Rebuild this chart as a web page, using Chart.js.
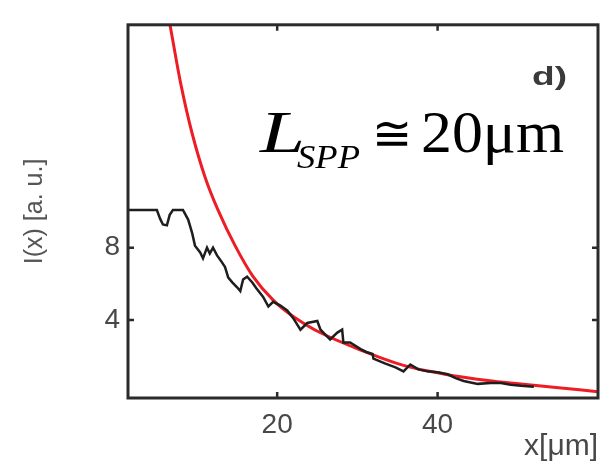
<!DOCTYPE html>
<html><head><meta charset="utf-8">
<script src="https://cdn.jsdelivr.net/npm/chart.js@4/dist/chart.umd.min.js"></script>
<style>html,body{margin:0;padding:0;background:#fff;}#wrap{width:610px;height:465px;}</style>
</head><body><div id="wrap"><canvas id="c" width="610" height="465"></canvas></div>
<script>
// Measured intensity profile I(x) (black)
const measX = [0.5, 5.0, 5.4, 5.75, 6.25, 6.6, 7.0, 8.25, 8.9, 9.4, 9.75, 10.4, 10.75, 11.25, 11.6, 12.0, 12.5, 13.1, 13.5, 13.9, 14.4, 15.0, 15.4, 15.75, 16.25, 16.9, 17.4, 18.25, 18.9, 19.5, 20.4, 21.25, 22.0, 22.9, 23.75, 25.0, 25.4, 26.0, 26.6, 27.5, 28.1, 28.25, 29.1, 30.4, 31.1, 31.9, 32.0, 33.5, 34.75, 35.75, 36.6, 37.6, 38.75, 40.0, 41.25, 42.25, 43.25, 45.0, 46.6, 47.9, 49.1, 50.4, 52.0];
const measY = [10.08, 10.08, 9.6, 9.28, 9.23, 9.81, 10.08, 10.08, 9.55, 8.8, 8.11, 7.73, 7.41, 8.0, 7.68, 8.0, 7.57, 7.2, 6.93, 6.35, 6.08, 5.81, 5.6, 6.24, 6.4, 6.08, 5.76, 5.28, 4.75, 5.01, 4.8, 4.53, 4.11, 3.47, 3.84, 3.95, 3.47, 3.2, 2.93, 3.31, 3.47, 2.77, 2.77, 2.4, 2.24, 2.13, 1.87, 1.6, 1.39, 1.17, 1.55, 1.28, 1.17, 1.12, 1.01, 0.8, 0.64, 0.48, 0.53, 0.53, 0.43, 0.37, 0.32];
// Exponential fit (red)
const fitX = [6.0, 6.6, 8.0, 9.4, 11.0, 12.6, 14.75, 17.0, 19.5, 22.0, 25.4, 30.4, 35.75, 40.75, 46.25, 50.4, 55.4, 60.0];
const fitY = [21.6, 20.37, 17.0, 14.3, 11.9, 10.1, 8.11, 6.4, 5.1, 4.2, 3.3, 2.35, 1.5, 1.03, 0.66, 0.47, 0.25, 0.05];
const xTicks = [20, 40];
const yTicks = [4, 8];
const xLabel = 'x[\u03bcm]';
const yLabel = 'I(x) [a. u.]';
const panelLabel = 'd)';

const toPts = (xs, ys) => xs.map((x, i) => ({x: x, y: ys[i]}));

const frame = {
  id: 'frame',
  afterDraw(chart) {
    const {ctx, chartArea: a, scales: {x, y}} = chart;
    ctx.save();
    ctx.strokeStyle = '#2b2b2b';
    ctx.lineWidth = 3;
    ctx.strokeRect(a.left, a.top, a.right - a.left, a.bottom - a.top);
    ctx.lineWidth = 2.5;
    const L = 6;
    ctx.beginPath();
    xTicks.forEach(v => {
      const px = x.getPixelForValue(v);
      ctx.moveTo(px, a.bottom); ctx.lineTo(px, a.bottom - L);
      ctx.moveTo(px, a.top); ctx.lineTo(px, a.top + L);
    });
    yTicks.forEach(v => {
      const py = y.getPixelForValue(v);
      ctx.moveTo(a.left, py); ctx.lineTo(a.left + L, py);
      ctx.moveTo(a.right, py); ctx.lineTo(a.right - L, py);
    });
    ctx.stroke();
    const put = (txt, font, x0, base, w) => {
      ctx.font = font;
      const m = ctx.measureText(txt).width;
      ctx.save();
      ctx.translate(x0, base);
      ctx.scale(w / m, 1);
      ctx.fillText(txt, 0, 0);
      ctx.restore();
    };
    ctx.textBaseline = 'alphabetic';
    ctx.textAlign = 'left';
    // panel label
    ctx.fillStyle = '#3a3a3a';
    put(panelLabel, 'bold 26px "Liberation Sans", Arial, sans-serif', 532, 85, 35);
    // formula L_SPP ≅ 20μm
    ctx.fillStyle = '#000';
    put('L', 'italic 60px "Liberation Serif", serif', 260, 152, 45);
    put('SPP', 'italic 33px "Liberation Serif", serif', 297, 168, 63);
    put('\u2245', '48px "DejaVu Serif", serif', 372, 150, 40);
    put('20\u03bcm', '60px "Liberation Serif", serif', 421, 152, 143);
    ctx.restore();
  }
};

new Chart(document.getElementById('c'), {
  type: 'scatter',
  data: {
    datasets: [
      { data: toPts(measX, measY), showLine: true, borderColor: '#1e1e1e', borderWidth: 2.5, pointRadius: 0, tension: 0 },
      { data: toPts(fitX, fitY), showLine: true, borderColor: '#ee1c25', borderWidth: 3, pointRadius: 0, tension: 0.35 }
    ]
  },
  options: {
    responsive: false,
    animation: false,
    devicePixelRatio: 1,
    layout: { padding: { top: 11, right: 12, left: 0, bottom: 0 } },
    plugins: { legend: { display: false }, tooltip: { enabled: false } },
    scales: {
      x: {
        type: 'linear', min: 1.4, max: 60,
        afterBuildTicks: s => { s.ticks = xTicks.map(v => ({value: v})); },
        afterFit: s => { s.height = 67; },
        grid: { display: false, drawTicks: false },
        border: { display: false },
        ticks: { color: '#484848', padding: 10, font: { size: 28, family: '"Liberation Sans", Arial, sans-serif' } },
        title: { display: true, text: xLabel, align: 'end', color: '#484848', padding: 0, font: { size: 30, family: '"Liberation Sans", Arial, sans-serif' } }
      },
      y: {
        type: 'linear', min: -0.3, max: 20.3,
        afterBuildTicks: s => { s.ticks = yTicks.map(v => ({value: v})); },
        afterFit: s => { s.width = 128; },
        grid: { display: false, drawTicks: false },
        border: { display: false },
        ticks: { color: '#484848', padding: 8, font: { size: 28, family: '"Liberation Sans", Arial, sans-serif' } },
        title: { display: true, text: yLabel, color: '#555', padding: { top: 20, bottom: 0 }, font: { size: 25, family: '"Liberation Sans", Arial, sans-serif' } }
      }
    }
  },
  plugins: [frame]
});
</script>
</body></html>
